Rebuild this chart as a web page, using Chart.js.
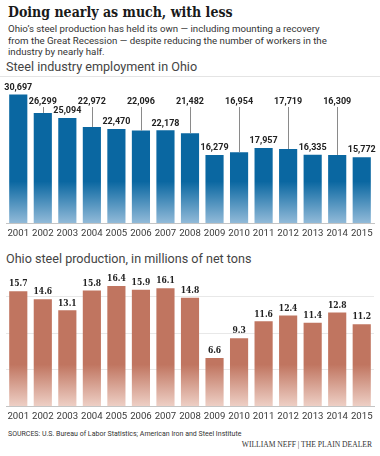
<!DOCTYPE html>
<html>
<head>
<meta charset="utf-8">
<script src="https://cdn.jsdelivr.net/npm/chart.js@4.4.1/dist/chart.umd.min.js"></script>
<style>
  body { margin: 0; width: 380px; height: 456px; background: #fff; position: relative; overflow: hidden; }
  .abs { position: absolute; white-space: nowrap; }
  #title { left: 8px; top: 4px; font: bold 14px "DejaVu Serif Condensed", "DejaVu Serif", serif; color: #1a1a1a; }
  #sub { left: 8px; top: 23px; font: 9.7px Roboto, sans-serif; line-height: 11.5px; color: #333; }
  .ctitle { left: 6px; font: 12.6px Roboto, sans-serif; color: #444; }
  #rule { left: 0; top: 76px; width: 380px; height: 1px; background: #e4e4e4; }
  #src { left: 8px; top: 430px; font: 7px Roboto, sans-serif; color: #333; }
  #credit { right: 8px; top: 440px; font: 7.6px "Liberation Serif", serif; color: #333; }
  canvas { position: absolute; left: 0; }
</style>
</head>
<body>
<div id="title" class="abs">Doing nearly as much, with less</div>
<div id="sub" class="abs">Ohio’s steel production has held its own — including mounting a recovery<br>from the Great Recession — despite reducing the number of workers in the<br>industry by nearly half.</div>
<div class="abs ctitle" style="top:59px">Steel industry employment in Ohio</div>
<div id="rule" class="abs"></div>
<canvas id="jobs" width="380" height="170" style="top:78px"></canvas>
<div class="abs ctitle" style="top:251px">Ohio steel production, in millions of net tons</div>
<canvas id="steel" width="380" height="160" style="top:268px"></canvas>
<div id="src" class="abs">SOURCES: U.S. Bureau of Labor Statistics; American Iron and Steel Institute</div>
<div id="credit" class="abs">WILLIAM NEFF | THE PLAIN DEALER</div>
<script>
const years = ["2001", "2002", "2003", "2004", "2005", "2006", "2007", "2008",
               "2009", "2010", "2011", "2012", "2013", "2014", "2015"];
const employment = [30697, 26299, 25094, 22972, 22470, 22096, 22178, 21482,
                    16279, 16954, 17957, 17719, 16335, 16309, 15772];
const production = [15.7, 14.6, 13.1, 15.8, 16.4, 15.9, 16.1, 14.8,
                    6.6, 9.3, 11.6, 12.4, 11.4, 12.8, 11.2];

// labels that sit on the top row with a leader line down to the bar
const raisedYears = ["2002", "2004", "2006", "2008", "2010", "2012", "2014"];

function fade(top, bottom) {
    return (c) => {
        const area = c.chart.chartArea;
        if (!area) return top;
        const g = c.chart.ctx.createLinearGradient(0, area.bottom, 0, area.bottom - 42);
        g.addColorStop(0, bottom);
        g.addColorStop(1, top);
        return g;
    };
}

const valueLabels = {
    id: "valueLabels",
    afterDatasetsDraw(chart, args, opts) {
        const ctx = chart.ctx;
        const meta = chart.getDatasetMeta(0);
        const data = chart.data.datasets[0].data;
        ctx.save();
        ctx.font = opts.font;
        ctx.fillStyle = "#222";
        ctx.textAlign = "center";
        ctx.textBaseline = "middle";
        meta.data.forEach((bar, i) => {
            const text = opts.format(data[i]);
            let y = bar.y - 7;
            if (opts.raised && opts.raised.includes(chart.data.labels[i])) {
                y = chart.chartArea.top + 13;
                ctx.strokeStyle = "#8a8a8a";
                ctx.lineWidth = 1;
                ctx.beginPath();
                ctx.moveTo(Math.round(bar.x) + 0.5, y + 5);
                ctx.lineTo(Math.round(bar.x) + 0.5, bar.y);
                ctx.stroke();
            }
            ctx.fillText(text, bar.x, y);
        });
        ctx.restore();
    }
};

function makeChart(id, values, maxY, padTop, padBottom, top, bottom, labelOpts) {
    return new Chart(document.getElementById(id).getContext("2d"), {
        type: "bar",
        data: {
            labels: years,
            datasets: [{
                data: values,
                backgroundColor: fade(top, bottom),
                barPercentage: 0.74,
                categoryPercentage: 1,
            }],
        },
        options: {
            responsive: false,
            animation: false,
            layout: { padding: { left: 6, right: 6, top: padTop, bottom: padBottom } },
            scales: {
                x: {
                    grid: { display: false, drawTicks: false },
                    border: { color: "#c4c4c4" },
                    ticks: { color: "#3a3a3a", font: { family: "Roboto", size: 9.6 }, padding: 4, maxRotation: 0, autoSkip: false },
                },
                y: {
                    min: 0,
                    max: maxY,
                    ticks: { display: false, stepSize: labelOpts.step },
                    border: { display: false },
                    grid: {
                        drawTicks: false,
                        color: (c) => (c.tick.value > 0 && c.tick.value % labelOpts.step === 0) ? "#e8e8e8" : "rgba(0,0,0,0)",
                    },
                },
            },
            plugins: {
                legend: { display: false },
                tooltip: { enabled: false },
                valueLabels: labelOpts,
            },
        },
        plugins: [valueLabels],
    });
}

makeChart("jobs", employment, 32000, 11, 5, "#0a67a1", "#93bbd9", {
    step: 5000,
    font: "bold 9px Roboto",
    format: (v) => v.toLocaleString("en-US"),
    raised: raisedYears,
});

makeChart("steel", production, 17.5, 10, 2, "#c07560", "#eed0c6", {
    step: 5,
    font: "bold 8.5px 'DejaVu Serif Condensed', 'DejaVu Serif'",
    format: (v) => v.toFixed(1),
});
</script>
</body>
</html>
